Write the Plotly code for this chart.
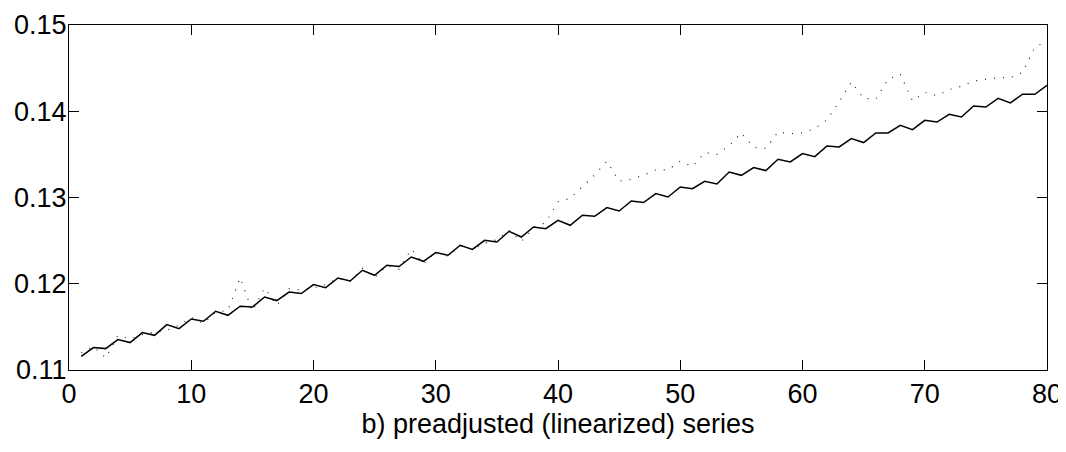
import plotly.graph_objects as go

# observation index
t = list(range(1, 81))

# fitted (linearized) series - solid line
fitted = [
    0.11159, 0.11260, 0.11248, 0.11352, 0.11318, 0.11434, 0.11402, 0.11526, 0.11480, 0.11591,
    0.11565, 0.11681, 0.11634, 0.11739, 0.11730, 0.11846, 0.11805, 0.11904, 0.11886, 0.11990,
    0.11955, 0.12067, 0.12032, 0.12156, 0.12098, 0.12214, 0.12199, 0.12310, 0.12260, 0.12361,
    0.12330, 0.12446, 0.12399, 0.12504, 0.12484, 0.12608, 0.12542, 0.12658, 0.12639, 0.12736,
    0.12678, 0.12794, 0.12782, 0.12883, 0.12843, 0.12959, 0.12941, 0.13045, 0.13006, 0.13122,
    0.13103, 0.13188, 0.13157, 0.13296, 0.13257, 0.13347, 0.13312, 0.13443, 0.13412, 0.13509,
    0.13474, 0.13597, 0.13586, 0.13683, 0.13637, 0.13748, 0.13748, 0.13837, 0.13787, 0.13895,
    0.13875, 0.13965, 0.13933, 0.14061, 0.14049, 0.14150, 0.14096, 0.14197, 0.14197, 0.14301,
]

# observed (preadjusted) series - dotted line
observed = [
    0.1120, 0.1127, 0.1114, 0.1140, 0.1136, 0.1141, 0.1144, 0.1146, 0.1152, 0.1161,
    0.1154, 0.1167, 0.1169, 0.1207, 0.1168, 0.1195, 0.1175, 0.1194, 0.1193, 0.1195,
    0.1199, 0.1206, 0.1203, 0.1218, 0.1207, 0.1221, 0.1217, 0.1240, 0.1223, 0.1237,
    0.1232, 0.1244, 0.1240, 0.1247, 0.1251, 0.1262, 0.1249, 0.1265, 0.1271, 0.1295,
    0.1299, 0.1313, 0.1326, 0.1342, 0.1319, 0.1321, 0.1326, 0.1332, 0.1332, 0.1342,
    0.1336, 0.1352, 0.1350, 0.1360, 0.1375, 0.1358, 0.1357, 0.1376, 0.1374, 0.1375,
    0.1380, 0.1390, 0.1411, 0.1434, 0.1415, 0.1414, 0.1437, 0.1443, 0.1412, 0.1422,
    0.1418, 0.1425, 0.1429, 0.1435, 0.1437, 0.1439, 0.1439, 0.1445, 0.1474, 0.1482,
]

fig = go.Figure()
fig.add_trace(go.Scatter(
    x=t, y=observed, mode='lines',
    line=dict(color='#222222', width=1.2, dash='1px,8px'),
    hoverinfo='skip',
))
fig.add_trace(go.Scatter(
    x=t, y=fitted, mode='lines',
    line=dict(color='black', width=1.5),
    hoverinfo='skip',
))

axis_font = dict(family='Liberation Sans, Arial', size=27, color='black')

fig.update_xaxes(
    range=[0, 80], dtick=10, tick0=0,
    ticks='inside', ticklen=10, tickcolor='black',
    showline=True, linecolor='black', linewidth=1, mirror='ticks',
    showgrid=False, zeroline=False, automargin=False,
    tickfont=axis_font, ticklabelstandoff=0,
    title=dict(text='b) preadjusted (linearized) series', font=axis_font, standoff=0),
)
fig.update_yaxes(
    range=[0.11, 0.15], dtick=0.01, tick0=0.11, tickformat='.2f',
    ticks='inside', ticklen=10, tickcolor='black',
    showline=True, linecolor='black', linewidth=1, mirror='ticks',
    showgrid=False, zeroline=False, automargin=False,
    tickfont=axis_font, ticklabelstandoff=-4,
)

# the page puts the plot 8px in from the window corner, so the figure is
# made a little smaller to keep the frame where the reference has it
fig.update_layout(
    width=1058, height=444,
    paper_bgcolor='white', plot_bgcolor='white',
    margin=dict(l=61, r=19, t=17, b=82),
    showlegend=False,
)

fig.write_html("out.html")
